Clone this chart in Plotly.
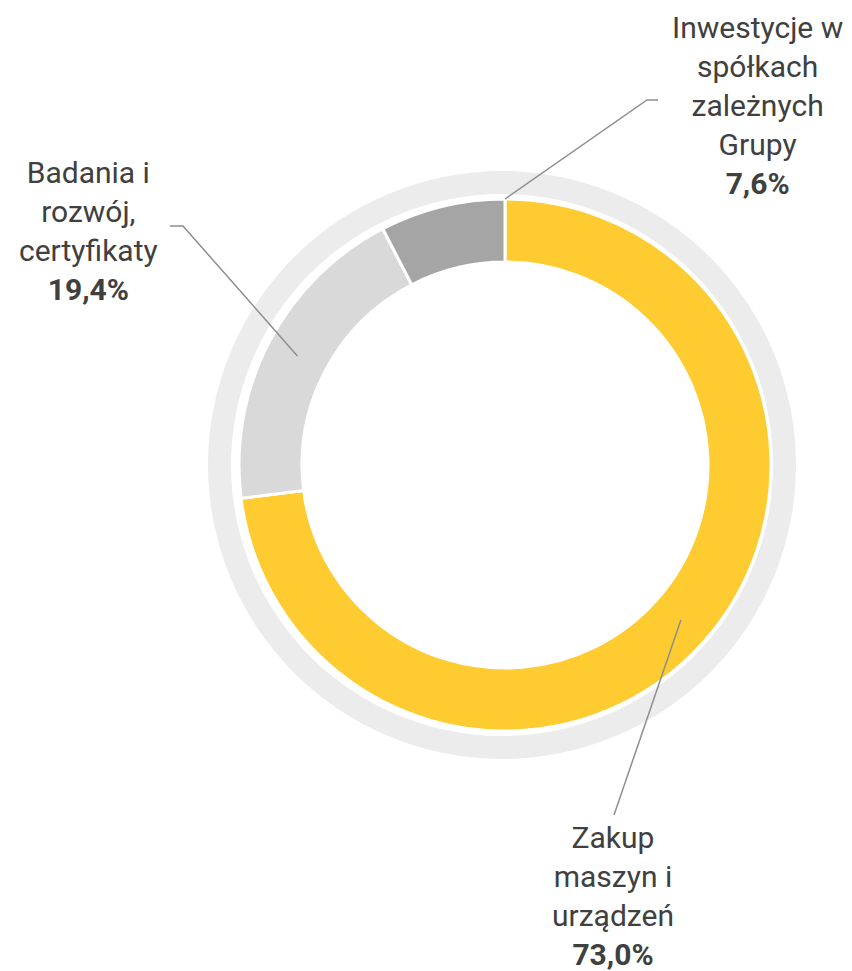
import math
import plotly.graph_objects as go

W, H = 852, 971

CATEGORIES = ["Zakup maszyn i urządzeń", "Badania i rozwój, certyfikaty", "Inwestycje w spółkach zależnych Grupy"]
SHARES = [73.0, 19.4, 7.6]
LABELS = ["Zakup<br>maszyn i<br>urządzeń", "Badania i<br>rozwój,<br>certyfikaty", "Inwestycje w<br>spółkach<br>zależnych<br>Grupy"]
PCT_TEXT = ["73,0%", "19,4%", "7,6%"]

COLORS = ["#FECB30", "#D9D9D9", "#A5A5A5"]
TEXT_COLOR = "#404040"
LINE_COLOR = "#8E8E8E"
FONT = "Roboto"

CX, CY = 505, 465
R_OUT = 266
R_IN = 203
BG_CX, BG_CY, BG_R = 502, 465, 294
BG_R_IN = 271


def px(x):
    return x / W


def py(y):
    return 1 - y / H


def domain(cx, cy, r):
    return dict(x=[px(cx - r), px(cx + r)], y=[py(cy + r), py(cy - r)])


def slice_point(frac, r):
    # frac measured clockwise from 12 o'clock, as in the pie
    ang = math.radians(90 - 360 * frac)
    return CX + r * math.cos(ang), CY - r * math.sin(ang)


fig = go.Figure()

# background ring
fig.add_trace(
    go.Pie(
        values=[1],
        labels=["bg"],
        hole=BG_R_IN / BG_R,
        marker=dict(colors=["#ECECEC"], line=dict(width=0)),
        textinfo="none",
        hoverinfo="skip",
        sort=False,
        showlegend=False,
        domain=domain(BG_CX, BG_CY, BG_R),
    )
)

fig.add_trace(
    go.Pie(
        values=SHARES,
        labels=CATEGORIES,
        hole=R_IN / R_OUT,
        sort=False,
        direction="clockwise",
        rotation=0,
        marker=dict(colors=COLORS, line=dict(color="white", width=3)),
        textinfo="none",
        showlegend=False,
        domain=domain(CX, CY, R_OUT),
    )
)

total = sum(SHARES)
starts = [sum(SHARES[:i]) / total for i in range(len(SHARES))]
mids = [starts[i] + SHARES[i] / total / 2 for i in range(len(SHARES))]
r_mid = (R_OUT + R_IN) / 2

# leader lines: (text side points..., anchor on ring)
leaders = [
    [(614, 815), slice_point(mids[0], r_mid)],
    [(170, 226), (183, 226), slice_point(mids[1], r_mid)],
    [(658, 100), (647, 100), slice_point(starts[2] + SHARES[2] / total, R_OUT)],
]
for pts in leaders:
    path = "M " + " L ".join(f"{px(x):.5f},{py(y):.5f}" for x, y in pts)
    fig.add_shape(
        type="path", path=path, xref="paper", yref="paper",
        line=dict(color=LINE_COLOR, width=1.5),
    )

label_pos = [(613, 896), (88, 231), (757, 105)]
for lab, pct, (x, y) in zip(LABELS, PCT_TEXT, label_pos):
    fig.add_annotation(
        x=px(x), y=py(y), xref="paper", yref="paper",
        xanchor="center", yanchor="middle",
        text=f"{lab}<br><b>{pct}</b>",
        showarrow=False, align="center",
        font=dict(family=FONT, size=30, color=TEXT_COLOR),
    )

fig.update_layout(
    width=W,
    height=H,
    margin=dict(l=0, r=0, t=0, b=0),
    paper_bgcolor="white",
    plot_bgcolor="white",
    showlegend=False,
)

fig.write_html(
    "out.html",
    config={"displayModeBar": False},
    post_script="document.body.style.margin='0';document.body.style.overflow='hidden';",
)
